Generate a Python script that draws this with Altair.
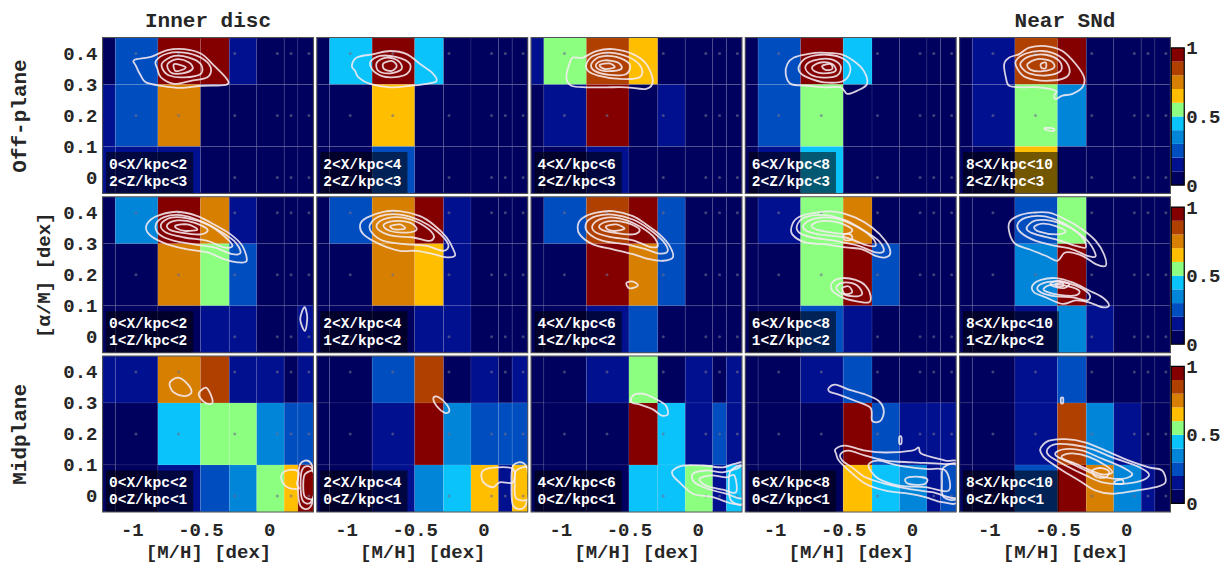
import altair as alt
import pandas as pd

MONO = "Liberation Mono"
INK = "#262626"

# Bin edges of the abundance grid
MH_EDGES = [-1.21, -1.12, -0.81, -0.50, -0.29, -0.09, 0.11, 0.21, 0.32]
AM_EDGES = [0.45, 0.30, 0.10, -0.05]          # top row first
MH_RANGE = [-1.21, 0.32]
AM_RANGE = [-0.05, 0.45]
MH_TICKS = [-1, -0.5, 0]
AM_TICKS = [0, 0.1, 0.2, 0.3, 0.4]
DOT_MH = [-0.97, -0.66, -0.25, 0.06, 0.16, 0.29]
DOT_AM = [0.0, 0.2, 0.4]

X_LABELS = ["0<X/kpc<2", "2<X/kpc<4", "4<X/kpc<6", "6<X/kpc<8", "8<X/kpc<10"]
Z_LABELS = ["2<Z/kpc<3", "1<Z/kpc<2", "0<Z/kpc<1"]
ROW_TITLES = ["Off-plane", "[α/M]  [dex]", "Midplane"]
COL_TITLES = {0: "Inner disc", 4: "Near SNd"}

PALETTE = ["#00005e", "#00108e", "#004dbf", "#0085d9", "#0ac3fa",
           "#8cff80", "#ffbf00", "#d67f00", "#b04000", "#840000"]
CBAR_LO = [0.0, 0.1, 0.2, 0.3, 0.4, 0.5, 0.6, 0.7, 0.8, 0.9]
CBAR_TICKS = [0, 0.5, 1]

# Normalised fraction per cell: rows top -> bottom, columns along [M/H]
FRAC = {
    (0, 0): [[0.05, 0.25, 0.95, 0.95, 0.15, 0.05, 0.05, 0.05],
             [0.15, 0.25, 0.75, 0.05, 0.05, 0.05, 0.05, 0.05],
             [0.15, 0.15, 0.15, 0.05, 0.05, 0.05, 0.05, 0.05]],
    (0, 1): [[0.05, 0.45, 0.95, 0.45, 0.05, 0.05, 0.05, 0.05],
             [0.05, 0.05, 0.65, 0.05, 0.05, 0.05, 0.05, 0.05],
             [0.05, 0.05, 0.25, 0.05, 0.05, 0.05, 0.05, 0.05]],
    (0, 2): [[0.15, 0.55, 0.85, 0.65, 0.05, 0.05, 0.05, 0.05],
             [0.05, 0.15, 0.95, 0.05, 0.15, 0.05, 0.05, 0.05],
             [0.05, 0.05, 0.15, 0.05, 0.05, 0.05, 0.05, 0.05]],
    (0, 3): [[0.05, 0.25, 0.95, 0.45, 0.05, 0.05, 0.05, 0.05],
             [0.05, 0.25, 0.55, 0.05, 0.05, 0.05, 0.05, 0.05],
             [0.05, 0.15, 0.45, 0.05, 0.05, 0.05, 0.05, 0.05]],
    (0, 4): [[0.05, 0.15, 0.85, 0.95, 0.05, 0.05, 0.05, 0.05],
             [0.05, 0.15, 0.55, 0.35, 0.05, 0.05, 0.05, 0.05],
             [0.05, 0.05, 0.65, 0.05, 0.05, 0.05, 0.05, 0.05]],
    (1, 0): [[0.05, 0.35, 0.95, 0.75, 0.15, 0.05, 0.05, 0.05],
             [0.05, 0.05, 0.75, 0.55, 0.25, 0.05, 0.05, 0.05],
             [0.05, 0.05, 0.05, 0.15, 0.15, 0.05, 0.05, 0.15]],
    (1, 1): [[0.05, 0.25, 0.75, 0.95, 0.15, 0.05, 0.05, 0.05],
             [0.05, 0.05, 0.75, 0.65, 0.15, 0.05, 0.05, 0.05],
             [0.05, 0.05, 0.05, 0.15, 0.15, 0.05, 0.05, 0.05]],
    (1, 2): [[0.05, 0.25, 0.85, 0.95, 0.25, 0.05, 0.05, 0.05],
             [0.05, 0.05, 0.95, 0.75, 0.25, 0.05, 0.05, 0.05],
             [0.05, 0.05, 0.15, 0.25, 0.05, 0.05, 0.05, 0.05]],
    (1, 3): [[0.05, 0.15, 0.55, 0.75, 0.05, 0.05, 0.05, 0.05],
             [0.05, 0.05, 0.55, 0.95, 0.25, 0.05, 0.05, 0.05],
             [0.05, 0.05, 0.25, 0.15, 0.05, 0.05, 0.05, 0.05]],
    (1, 4): [[0.05, 0.05, 0.25, 0.55, 0.05, 0.05, 0.05, 0.05],
             [0.05, 0.05, 0.35, 0.95, 0.05, 0.05, 0.05, 0.05],
             [0.05, 0.05, 0.15, 0.35, 0.15, 0.05, 0.05, 0.05]],
    (2, 0): [[0.15, 0.15, 0.75, 0.85, 0.15, 0.15, 0.05, 0.15],
             [0.05, 0.05, 0.45, 0.55, 0.55, 0.35, 0.25, 0.25],
             [0.05, 0.05, 0.15, 0.25, 0.35, 0.55, 0.65, 0.95]],
    (2, 1): [[0.05, 0.05, 0.25, 0.85, 0.05, 0.15, 0.05, 0.15],
             [0.05, 0.05, 0.15, 0.95, 0.35, 0.25, 0.25, 0.25],
             [0.05, 0.05, 0.15, 0.35, 0.45, 0.65, 0.15, 0.65]],
    (2, 2): [[0.05, 0.05, 0.15, 0.55, 0.05, 0.15, 0.05, 0.15],
             [0.05, 0.05, 0.05, 0.95, 0.45, 0.15, 0.25, 0.15],
             [0.05, 0.05, 0.05, 0.45, 0.45, 0.55, 0.15, 0.45]],
    (2, 3): [[0.05, 0.05, 0.15, 0.25, 0.05, 0.05, 0.05, 0.05],
             [0.05, 0.05, 0.05, 0.95, 0.25, 0.15, 0.15, 0.15],
             [0.05, 0.05, 0.05, 0.65, 0.45, 0.35, 0.15, 0.25]],
    (2, 4): [[0.05, 0.05, 0.15, 0.25, 0.05, 0.05, 0.05, 0.05],
             [0.05, 0.05, 0.15, 0.85, 0.35, 0.15, 0.05, 0.05],
             [0.05, 0.05, 0.25, 0.95, 0.75, 0.35, 0.15, 0.05]],
}

# Density contours of the stellar sample, as closed rings of ([M/H], [a/M])
CONTOURS = {
    (0, 0): [
        [(-0.982, 0.379), (-0.861, 0.389), (-0.740, 0.411), (-0.619, 0.414), (-0.498, 0.400), (-0.412, 0.366), (-0.308, 0.318), (-0.316, 0.299), (-0.498, 0.296), (-0.643, 0.289), (-0.788, 0.296), (-0.897, 0.307), (-0.934, 0.328), (-0.970, 0.360)],
        [(-0.825, 0.376), (-0.740, 0.400), (-0.619, 0.403), (-0.498, 0.387), (-0.425, 0.355), (-0.449, 0.323), (-0.570, 0.312), (-0.691, 0.302), (-0.788, 0.323), (-0.813, 0.350)],
        [(-0.776, 0.371), (-0.691, 0.392), (-0.583, 0.387), (-0.498, 0.366), (-0.498, 0.334), (-0.619, 0.323), (-0.728, 0.329), (-0.776, 0.350)],
        [(-0.740, 0.366), (-0.667, 0.382), (-0.583, 0.371), (-0.558, 0.350), (-0.631, 0.336), (-0.716, 0.339)],
        [(-0.691, 0.366), (-0.607, 0.355), (-0.679, 0.343)],
    ],
    (0, 1): [
        [(-0.958, 0.360), (-0.922, 0.387), (-0.800, 0.398), (-0.679, 0.408), (-0.558, 0.398), (-0.461, 0.366), (-0.376, 0.339), (-0.340, 0.312), (-0.413, 0.302), (-0.534, 0.296), (-0.679, 0.291), (-0.825, 0.302), (-0.910, 0.323), (-0.934, 0.344)],
        [(-0.825, 0.371), (-0.752, 0.392), (-0.631, 0.388), (-0.534, 0.366), (-0.558, 0.334), (-0.679, 0.323), (-0.788, 0.339)],
        [(-0.776, 0.371), (-0.704, 0.387), (-0.619, 0.376), (-0.595, 0.350), (-0.679, 0.336), (-0.764, 0.344)],
        [(-0.728, 0.368), (-0.667, 0.376), (-0.631, 0.360), (-0.667, 0.344), (-0.723, 0.350)],
    ],
    (0, 2): [
        [(-0.956, 0.323), (-0.931, 0.371), (-0.907, 0.387), (-0.834, 0.387), (-0.738, 0.408), (-0.616, 0.414), (-0.471, 0.398), (-0.374, 0.366), (-0.326, 0.312), (-0.374, 0.286), (-0.519, 0.291), (-0.665, 0.291), (-0.810, 0.291), (-0.919, 0.296)],
        [(-0.810, 0.366), (-0.762, 0.392), (-0.641, 0.403), (-0.495, 0.387), (-0.410, 0.355), (-0.423, 0.323), (-0.568, 0.318), (-0.725, 0.329), (-0.798, 0.344)],
        [(-0.774, 0.366), (-0.713, 0.389), (-0.592, 0.389), (-0.495, 0.366), (-0.519, 0.334), (-0.641, 0.331), (-0.750, 0.344)],
        [(-0.738, 0.366), (-0.677, 0.378), (-0.580, 0.371), (-0.556, 0.350), (-0.653, 0.343), (-0.725, 0.350)],
        [(-0.713, 0.363), (-0.641, 0.368), (-0.604, 0.355), (-0.677, 0.350)],
    ],
    (0, 3): [
        [(-0.907, 0.366), (-0.859, 0.387), (-0.762, 0.398), (-0.665, 0.403), (-0.519, 0.398), (-0.423, 0.376), (-0.350, 0.344), (-0.326, 0.302), (-0.398, 0.280), (-0.471, 0.270), (-0.519, 0.291), (-0.641, 0.291), (-0.762, 0.296), (-0.883, 0.302), (-0.919, 0.334)],
        [(-0.822, 0.360), (-0.762, 0.387), (-0.616, 0.396), (-0.495, 0.382), (-0.447, 0.350), (-0.495, 0.312), (-0.641, 0.307), (-0.762, 0.323), (-0.815, 0.339)],
        [(-0.774, 0.360), (-0.713, 0.378), (-0.592, 0.382), (-0.519, 0.360), (-0.544, 0.329), (-0.665, 0.323), (-0.750, 0.336)],
        [(-0.725, 0.357), (-0.665, 0.371), (-0.580, 0.366), (-0.556, 0.344), (-0.641, 0.336), (-0.709, 0.343)],
        [(-0.653, 0.360), (-0.592, 0.366), (-0.580, 0.350), (-0.629, 0.347)],
    ],
    (0, 4): [
        [(-0.888, 0.366), (-0.851, 0.387), (-0.779, 0.398), (-0.706, 0.419), (-0.585, 0.424), (-0.464, 0.408), (-0.367, 0.366), (-0.306, 0.323), (-0.318, 0.291), (-0.391, 0.270), (-0.464, 0.264), (-0.512, 0.253), (-0.524, 0.264), (-0.512, 0.280), (-0.633, 0.291), (-0.754, 0.291), (-0.851, 0.296), (-0.876, 0.323)],
        [(-0.803, 0.376), (-0.730, 0.400), (-0.609, 0.408), (-0.487, 0.392), (-0.415, 0.355), (-0.439, 0.323), (-0.585, 0.312), (-0.730, 0.323), (-0.791, 0.350)],
        [(-0.767, 0.371), (-0.694, 0.392), (-0.585, 0.396), (-0.487, 0.376), (-0.476, 0.344), (-0.585, 0.329), (-0.706, 0.336), (-0.759, 0.353)],
        [(-0.718, 0.366), (-0.645, 0.382), (-0.548, 0.376), (-0.524, 0.355), (-0.609, 0.343), (-0.694, 0.347)],
        [(-0.621, 0.366), (-0.585, 0.371), (-0.585, 0.353), (-0.615, 0.353)],
        [(-0.590, 0.160), (-0.529, 0.158), (-0.529, 0.150), (-0.585, 0.154)],
    ],
    (1, 0): [
        [(-0.897, 0.352), (-0.861, 0.378), (-0.788, 0.394), (-0.667, 0.403), (-0.522, 0.389), (-0.401, 0.362), (-0.280, 0.330), (-0.195, 0.293), (-0.163, 0.245), (-0.231, 0.240), (-0.328, 0.250), (-0.449, 0.272), (-0.595, 0.282), (-0.740, 0.298), (-0.861, 0.325)],
        [(-0.825, 0.362), (-0.764, 0.386), (-0.643, 0.392), (-0.498, 0.373), (-0.377, 0.346), (-0.255, 0.309), (-0.207, 0.272), (-0.267, 0.266), (-0.401, 0.288), (-0.546, 0.298), (-0.691, 0.309), (-0.800, 0.330)],
        [(-0.788, 0.362), (-0.716, 0.384), (-0.595, 0.382), (-0.449, 0.362), (-0.328, 0.325), (-0.267, 0.293), (-0.328, 0.288), (-0.449, 0.309), (-0.619, 0.320), (-0.752, 0.336)],
        [(-0.740, 0.362), (-0.667, 0.375), (-0.546, 0.368), (-0.449, 0.346), (-0.498, 0.330), (-0.643, 0.336), (-0.728, 0.346)],
        [(-0.679, 0.359), (-0.595, 0.362), (-0.522, 0.346), (-0.607, 0.341), (-0.672, 0.349)],
        [(0.258, 0.095), (0.278, 0.061), (0.261, 0.019), (0.227, 0.056)],
    ],
    (1, 1): [
        [(-0.897, 0.362), (-0.849, 0.384), (-0.728, 0.403), (-0.607, 0.405), (-0.461, 0.389), (-0.364, 0.362), (-0.267, 0.320), (-0.219, 0.282), (-0.207, 0.261), (-0.267, 0.256), (-0.364, 0.266), (-0.486, 0.277), (-0.607, 0.277), (-0.752, 0.298), (-0.873, 0.330)],
        [(-0.825, 0.362), (-0.752, 0.389), (-0.607, 0.394), (-0.461, 0.375), (-0.340, 0.341), (-0.255, 0.298), (-0.292, 0.277), (-0.413, 0.293), (-0.558, 0.298), (-0.728, 0.309), (-0.813, 0.336)],
        [(-0.776, 0.362), (-0.704, 0.382), (-0.582, 0.384), (-0.461, 0.365), (-0.364, 0.330), (-0.389, 0.309), (-0.510, 0.320), (-0.655, 0.325), (-0.752, 0.341)],
        [(-0.728, 0.360), (-0.655, 0.373), (-0.534, 0.368), (-0.486, 0.346), (-0.558, 0.336), (-0.679, 0.341)],
        [(-0.679, 0.357), (-0.607, 0.362), (-0.571, 0.349), (-0.643, 0.346)],
    ],
    (1, 2): [
        [(-0.871, 0.362), (-0.834, 0.384), (-0.738, 0.400), (-0.616, 0.405), (-0.471, 0.389), (-0.374, 0.362), (-0.277, 0.330), (-0.204, 0.293), (-0.180, 0.256), (-0.253, 0.245), (-0.350, 0.250), (-0.471, 0.266), (-0.616, 0.282), (-0.762, 0.298), (-0.859, 0.330)],
        [(-0.810, 0.368), (-0.738, 0.389), (-0.616, 0.394), (-0.471, 0.378), (-0.350, 0.346), (-0.253, 0.309), (-0.217, 0.277), (-0.277, 0.268), (-0.374, 0.282), (-0.519, 0.298), (-0.689, 0.309), (-0.798, 0.336)],
        [(-0.762, 0.362), (-0.689, 0.382), (-0.568, 0.382), (-0.447, 0.362), (-0.326, 0.325), (-0.290, 0.293), (-0.350, 0.290), (-0.471, 0.311), (-0.641, 0.322), (-0.750, 0.339)],
        [(-0.713, 0.360), (-0.641, 0.373), (-0.519, 0.368), (-0.423, 0.346), (-0.471, 0.330), (-0.616, 0.336), (-0.701, 0.346)],
        [(-0.665, 0.357), (-0.592, 0.362), (-0.532, 0.349), (-0.604, 0.341), (-0.653, 0.346)],
        [(-0.519, 0.173), (-0.471, 0.178), (-0.435, 0.165), (-0.495, 0.156)],
    ],
    (1, 3): [
        [(-0.871, 0.362), (-0.822, 0.386), (-0.701, 0.400), (-0.556, 0.403), (-0.410, 0.384), (-0.289, 0.352), (-0.192, 0.309), (-0.156, 0.272), (-0.192, 0.256), (-0.265, 0.261), (-0.362, 0.282), (-0.483, 0.288), (-0.628, 0.298), (-0.774, 0.304), (-0.871, 0.330)],
        [(-0.834, 0.362), (-0.774, 0.386), (-0.628, 0.392), (-0.483, 0.375), (-0.362, 0.346), (-0.241, 0.309), (-0.204, 0.277), (-0.265, 0.272), (-0.386, 0.293), (-0.556, 0.309), (-0.725, 0.320), (-0.822, 0.336)],
        [(-0.786, 0.362), (-0.701, 0.382), (-0.556, 0.382), (-0.410, 0.357), (-0.289, 0.320), (-0.265, 0.293), (-0.338, 0.296), (-0.483, 0.320), (-0.677, 0.330), (-0.774, 0.343)],
        [(-0.725, 0.362), (-0.653, 0.373), (-0.532, 0.368), (-0.435, 0.346), (-0.483, 0.332), (-0.628, 0.339), (-0.713, 0.349)],
        [(-0.495, 0.329), (-0.447, 0.330), (-0.435, 0.314), (-0.488, 0.312)],
        [(-0.580, 0.175), (-0.507, 0.189), (-0.410, 0.183), (-0.338, 0.165), (-0.301, 0.133), (-0.313, 0.111), (-0.410, 0.115), (-0.507, 0.127), (-0.580, 0.149)],
        [(-0.544, 0.165), (-0.483, 0.175), (-0.398, 0.165), (-0.362, 0.138), (-0.423, 0.130), (-0.507, 0.138), (-0.544, 0.151)],
        [(-0.507, 0.157), (-0.459, 0.162), (-0.435, 0.143), (-0.488, 0.138)],
    ],
    (1, 4): [
        [(-0.851, 0.368), (-0.791, 0.389), (-0.682, 0.400), (-0.561, 0.400), (-0.440, 0.378), (-0.318, 0.346), (-0.221, 0.309), (-0.161, 0.266), (-0.149, 0.229), (-0.221, 0.234), (-0.318, 0.261), (-0.440, 0.272), (-0.500, 0.245), (-0.585, 0.261), (-0.706, 0.282), (-0.803, 0.298), (-0.847, 0.330)],
        [(-0.791, 0.362), (-0.730, 0.384), (-0.609, 0.389), (-0.488, 0.373), (-0.367, 0.341), (-0.270, 0.304), (-0.221, 0.261), (-0.282, 0.261), (-0.391, 0.282), (-0.512, 0.293), (-0.658, 0.309), (-0.767, 0.336)],
        [(-0.718, 0.357), (-0.658, 0.375), (-0.536, 0.373), (-0.415, 0.354), (-0.318, 0.320), (-0.294, 0.288), (-0.367, 0.293), (-0.512, 0.314), (-0.658, 0.330), (-0.718, 0.343)],
        [(-0.670, 0.354), (-0.609, 0.365), (-0.512, 0.357), (-0.440, 0.339), (-0.512, 0.330), (-0.633, 0.339)],
        [(-0.682, 0.165), (-0.621, 0.183), (-0.512, 0.189), (-0.391, 0.175), (-0.270, 0.149), (-0.173, 0.127), (-0.124, 0.101), (-0.173, 0.095), (-0.270, 0.111), (-0.367, 0.117), (-0.464, 0.106), (-0.585, 0.127), (-0.670, 0.143)],
        [(-0.645, 0.160), (-0.585, 0.175), (-0.488, 0.178), (-0.367, 0.165), (-0.270, 0.138), (-0.282, 0.117), (-0.391, 0.127), (-0.512, 0.130), (-0.621, 0.143)],
        [(-0.597, 0.157), (-0.536, 0.168), (-0.440, 0.165), (-0.343, 0.149), (-0.367, 0.133), (-0.488, 0.135), (-0.585, 0.146)],
        [(-0.549, 0.173), (-0.488, 0.180), (-0.415, 0.170), (-0.452, 0.157), (-0.532, 0.163)],
        [(-0.512, 0.170), (-0.464, 0.173), (-0.459, 0.163), (-0.505, 0.163)],
    ],
    (2, 0): [
        [(-0.716, 0.370), (-0.655, 0.381), (-0.590, 0.359), (-0.566, 0.333), (-0.619, 0.322), (-0.691, 0.333), (-0.723, 0.354)],
        [(-0.510, 0.333), (-0.461, 0.349), (-0.425, 0.327), (-0.413, 0.300), (-0.454, 0.298), (-0.502, 0.316)],
        [(0.094, 0.071), (0.154, 0.084), (0.215, 0.076), (0.203, 0.039), (0.215, 0.023), (0.142, 0.026), (0.098, 0.044)],
        [(0.227, 0.103), (0.300, 0.108), (0.340, 0.039), (0.300, -0.036), (0.227, -0.031), (0.210, 0.039)],
        [(0.244, 0.087), (0.305, 0.092), (0.340, 0.039), (0.305, -0.020), (0.244, -0.015), (0.229, 0.039)],
        [(0.263, 0.071), (0.340, 0.076), (0.340, -0.004), (0.263, -0.004), (0.249, 0.033)],
    ],
    (2, 1): [
        [(-0.364, 0.316), (-0.328, 0.319), (-0.267, 0.295), (-0.248, 0.274), (-0.280, 0.268), (-0.340, 0.290)],
        [(-0.001, 0.082), (0.096, 0.092), (0.217, 0.087), (0.217, 0.044), (0.120, 0.044), (0.072, 0.028), (0.011, 0.039), (-0.013, 0.060)],
        [(0.217, 0.098), (0.300, 0.103), (0.340, 0.039), (0.300, -0.036), (0.217, -0.031), (0.205, 0.039)],
        [(0.241, 0.082), (0.340, 0.087), (0.340, -0.004), (0.241, -0.009), (0.229, 0.039)],
    ],
    (2, 2): [
        [(-0.483, 0.316), (-0.447, 0.329), (-0.374, 0.327), (-0.277, 0.306), (-0.229, 0.290), (-0.217, 0.263), (-0.265, 0.260), (-0.326, 0.279), (-0.423, 0.295), (-0.476, 0.300)],
        [(-0.180, 0.082), (-0.108, 0.098), (0.038, 0.098), (0.183, 0.092), (0.268, 0.103), (0.340, 0.098), (0.340, -0.015), (0.256, -0.025), (0.111, -0.004), (-0.035, 0.007), (-0.132, 0.044), (-0.180, 0.066)],
        [(-0.035, 0.071), (0.062, 0.082), (0.183, 0.076), (0.280, 0.087), (0.340, 0.092), (0.340, -0.004), (0.207, 0.007), (0.074, 0.023), (-0.023, 0.044)],
        [(0.014, 0.055), (0.098, 0.066), (0.207, 0.060), (0.268, 0.066), (0.280, 0.012), (0.183, 0.020), (0.062, 0.033)],
        [(0.244, 0.082), (0.340, 0.092), (0.340, -0.020), (0.244, -0.015), (0.227, 0.039)],
    ],
    (2, 3): [
        [(-0.604, 0.349), (-0.556, 0.359), (-0.459, 0.343), (-0.338, 0.327), (-0.241, 0.306), (-0.204, 0.274), (-0.229, 0.242), (-0.289, 0.242), (-0.301, 0.284), (-0.410, 0.306), (-0.532, 0.327), (-0.599, 0.336)],
        [(-0.091, 0.190), (-0.076, 0.190), (-0.076, 0.169), (-0.091, 0.169)],
        [(-0.556, 0.151), (-0.483, 0.162), (-0.338, 0.146), (-0.192, 0.140), (0.002, 0.146), (0.050, 0.156), (0.074, 0.135), (0.244, 0.114), (0.340, 0.103), (0.340, -0.015), (0.220, -0.020), (0.098, -0.004), (-0.023, 0.007), (-0.192, 0.017), (-0.338, 0.039), (-0.459, 0.082), (-0.532, 0.114), (-0.551, 0.135)],
        [(-0.519, 0.135), (-0.459, 0.146), (-0.338, 0.130), (-0.192, 0.114), (0.002, 0.108), (0.220, 0.103), (0.340, 0.092), (0.340, -0.004), (0.147, 0.012), (-0.023, 0.023), (-0.192, 0.039), (-0.338, 0.060), (-0.435, 0.092), (-0.507, 0.114)],
        [(-0.313, 0.103), (-0.241, 0.114), (-0.095, 0.098), (0.098, 0.087), (0.244, 0.082), (0.268, 0.017), (0.098, 0.028), (-0.095, 0.033), (-0.241, 0.055), (-0.301, 0.082)],
        [(-0.047, 0.055), (0.026, 0.062), (0.111, 0.055), (0.086, 0.037), (-0.023, 0.039)],
        [(0.232, 0.092), (0.340, 0.098), (0.340, -0.004), (0.232, -0.004), (0.220, 0.044)],
    ],
    (2, 4): [
        [(-0.621, 0.156), (-0.561, 0.178), (-0.440, 0.183), (-0.294, 0.172), (-0.149, 0.146), (0.021, 0.114), (0.166, 0.092), (0.263, 0.082), (0.287, 0.044), (0.215, 0.028), (0.069, 0.017), (-0.100, 0.007), (-0.221, 0.017), (-0.343, 0.050), (-0.464, 0.082), (-0.585, 0.119), (-0.621, 0.140)],
        [(-0.573, 0.151), (-0.512, 0.167), (-0.391, 0.165), (-0.246, 0.151), (-0.100, 0.124), (0.069, 0.098), (0.166, 0.071), (0.118, 0.050), (-0.028, 0.039), (-0.173, 0.044), (-0.294, 0.066), (-0.440, 0.098), (-0.561, 0.130)],
        [(-0.512, 0.140), (-0.440, 0.151), (-0.318, 0.146), (-0.197, 0.124), (-0.052, 0.098), (0.045, 0.071), (-0.028, 0.055), (-0.173, 0.062), (-0.294, 0.082), (-0.415, 0.108), (-0.500, 0.126)],
        [(-0.464, 0.130), (-0.391, 0.137), (-0.270, 0.126), (-0.149, 0.098), (-0.100, 0.076), (-0.173, 0.069), (-0.270, 0.084), (-0.391, 0.108), (-0.459, 0.119)],
        [(-0.246, 0.082), (-0.185, 0.090), (-0.124, 0.079), (-0.149, 0.060), (-0.221, 0.062)],
        [(-0.081, 0.047), (-0.028, 0.052), (-0.023, 0.039), (-0.076, 0.039)],
        [(-0.474, 0.316), (-0.459, 0.316), (-0.459, 0.300), (-0.474, 0.300)],
    ],
}

PANEL_W, PANEL_H = 210, 155
COLOR_SCALE = alt.Scale(type="quantize", domain=[0, 1], range=PALETTE, nice=False)
X_SCALE = alt.Scale(domain=MH_RANGE, nice=False, zero=False)
Y_SCALE = alt.Scale(domain=AM_RANGE, nice=False, zero=False)


def x_axis(r):
    if r != 2:
        return None
    return alt.Axis(values=MH_TICKS, labelExpr="'' + datum.value", title="[M/H]  [dex]",
                    ticks=False, domain=False, grid=False, labelFontSize=19, labelPadding=9,
                    titleFontSize=19, titleY=40, titleBaseline="middle")


def y_axis(r, c):
    if c != 0:
        return None
    size = 19 if r == 1 else 21
    tx = -60 if r == 1 else -84
    return alt.Axis(values=AM_TICKS, labelExpr="'' + datum.value", title=ROW_TITLES[r],
                    ticks=False, domain=False, grid=False, labelFontSize=19, labelPadding=6,
                    titleFontSize=size, titleX=tx, titleY=PANEL_H / 2, titleAngle=270,
                    titleAlign="center", titleBaseline="middle")


def panel(r, c):
    xa, ya = x_axis(r), y_axis(r, c)
    frac = FRAC[(r, c)]
    cells = pd.DataFrame([
        dict(mh_lo=MH_EDGES[j], mh_hi=MH_EDGES[j + 1], am_hi=AM_EDGES[k], am_lo=AM_EDGES[k + 1], frac=frac[k][j])
        for k in range(3) for j in range(8)
    ])
    grid = alt.Chart(cells).mark_rect(stroke="#ffffff", strokeOpacity=0.1, strokeWidth=0.8).encode(
        x=alt.X("mh_lo:Q", scale=X_SCALE, axis=xa),
        x2="mh_hi:Q",
        y=alt.Y("am_lo:Q", scale=Y_SCALE, axis=ya),
        y2="am_hi:Q",
        color=alt.Color("frac:Q", scale=COLOR_SCALE, legend=None),
    )
    dots_df = pd.DataFrame([dict(mh=m, am=a) for m in DOT_MH for a in DOT_AM])
    dots = alt.Chart(dots_df).mark_circle(size=9, color="#6e6e90", opacity=0.6).encode(
        x=alt.X("mh:Q", scale=X_SCALE, axis=xa),
        y=alt.Y("am:Q", scale=Y_SCALE, axis=ya),
    )
    rings = []
    for ring_id, ring in enumerate(CONTOURS[(r, c)]):
        for i, (m, a) in enumerate(ring):
            rings.append(dict(ring=ring_id, i=i, mh=m, am=a))
    lines = alt.Chart(pd.DataFrame(rings)).mark_line(
        clip=True, interpolate="cardinal-closed", strokeWidth=1.8, color="#f6ecf2", opacity=0.88
    ).encode(
        x=alt.X("mh:Q", scale=X_SCALE, axis=xa),
        y=alt.Y("am:Q", scale=Y_SCALE, axis=ya),
        detail="ring:N",
        order="i:Q",
    )
    lab = pd.DataFrame({"xl": [X_LABELS[c]], "zl": [Z_LABELS[r]]})
    box_w = 11 + 8.8 * max(len(X_LABELS[c]), len(Z_LABELS[r]))
    box = alt.Chart(lab).mark_rect(color="#000000", opacity=0.55).encode(
        x=alt.value(3), x2=alt.value(box_w), y=alt.value(114), y2=alt.value(PANEL_H)
    )
    t1 = alt.Chart(lab).mark_text(align="left", baseline="middle", font=MONO, fontSize=14.5,
                                  fontWeight="bold", color="#ffffff").encode(
        x=alt.value(6), y=alt.value(127), text="xl:N")
    t2 = alt.Chart(lab).mark_text(align="left", baseline="middle", font=MONO, fontSize=14.5,
                                  fontWeight="bold", color="#ffffff").encode(
        x=alt.value(6), y=alt.value(144), text="zl:N")
    ch = alt.layer(grid, dots, lines, box, t1, t2).properties(width=PANEL_W, height=PANEL_H)
    if r == 0 and c in COL_TITLES:
        ch = ch.properties(title=alt.TitleParams(COL_TITLES[c], offset=7, anchor="middle",
                                                 fontSize=21, font=MONO, fontWeight="bold", color=INK))
    return ch


def colorbar():
    cb = pd.DataFrame({"lo": CBAR_LO, "hi": [v + 0.1 for v in CBAR_LO], "mid": [v + 0.05 for v in CBAR_LO]})
    ys = alt.Scale(domain=[-0.058, 1.072], nice=False, zero=False)
    ax = alt.Axis(orient="right", values=CBAR_TICKS, labelExpr="'' + datum.value", ticks=False,
                  domain=False, grid=False, title=None, labelFontSize=19, labelPadding=1.5)
    bars = alt.Chart(cb).mark_rect().encode(
        x=alt.value(-3), x2=alt.value(10),
        y=alt.Y("lo:Q", scale=ys, axis=ax), y2="hi:Q",
        color=alt.Color("mid:Q", scale=COLOR_SCALE, legend=None),
    )
    frame_df = pd.DataFrame({"lo": [CBAR_LO[0]], "hi": [CBAR_LO[-1] + 0.1]})
    frame = alt.Chart(frame_df).mark_rect(fillOpacity=0, stroke="#000000", strokeWidth=1.2).encode(
        x=alt.value(-3), x2=alt.value(10),
        y=alt.Y("lo:Q", scale=ys, axis=ax), y2="hi:Q",
    )
    return alt.layer(bars, frame).properties(width=10, height=PANEL_H,
                                             view=alt.ViewBackground(stroke="transparent"))


cells_all = []
for r in range(3):
    cells_all += [panel(r, c) for c in range(5)] + [colorbar()]

chart = alt.concat(*cells_all, columns=6, spacing=alt.RowColnumber(row=4.2, column=4.25),
                   bounds="flush").properties(
    padding={"left": 7, "top": 8, "right": 0, "bottom": 0},
    background="#ffffff",
).configure_view(stroke="#4a4a4a", strokeWidth=2).configure_axis(
    labelFont=MONO, titleFont=MONO, labelFontWeight="bold", titleFontWeight="bold",
    labelColor=INK, titleColor=INK,
).configure_title(font=MONO, color=INK)

chart.save("out.html", embed_options={"renderer": "svg", "actions": False})
